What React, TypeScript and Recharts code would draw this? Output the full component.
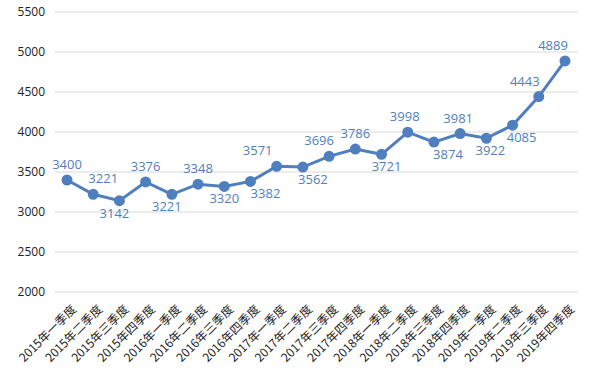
import { CartesianGrid, LabelList, Line, LineChart, XAxis, YAxis } from "recharts";

const QUARTERS = [
  "2015年一季度", "2015年二季度", "2015年三季度", "2015年四季度",
  "2016年一季度", "2016年二季度", "2016年三季度", "2016年四季度",
  "2017年一季度", "2017年二季度", "2017年三季度", "2017年四季度",
  "2018年一季度", "2018年二季度", "2018年三季度", "2018年四季度",
  "2019年一季度", "2019年二季度", "2019年三季度", "2019年四季度",
];

const VALUES = [
  3400, 3221, 3142, 3376, 3221, 3348, 3320, 3382, 3571, 3562,
  3696, 3786, 3721, 3998, 3874, 3981, 3922, 4085, 4443, 4889,
];

const Y_TICKS = [2000, 2500, 3000, 3500, 4000, 4500, 5000, 5500];

// data label placement: 1 = below the point, 0 = above; plus a small sideways nudge
const LABEL_BELOW = [0, 0, 1, 0, 1, 0, 1, 1, 0, 1, 0, 0, 1, 0, 1, 0, 1, 1, 0, 0];
const LABEL_NUDGE = [0, 10, -5, 0, -5, 0, 0, 15, -19, 10, -10, 0, 5, -3, 14, -2, 4, 9, -14, -12];

const BLUE = "#4f7fbe";

const data = QUARTERS.map((quarter, i) => ({ quarter, value: VALUES[i] }));

function QuarterTick({ x, y, payload }: any) {
  return (
    <g transform={`translate(${x + 10},${y + 10})`}>
      <text
        textAnchor="end"
        transform="rotate(-45)"
        fontSize={12}
        fill="#222"
        fontFamily="'Noto Sans CJK SC', sans-serif"
      >
        {payload.value}
      </text>
    </g>
  );
}

function ValueLabel({ x, y, value, index }: any) {
  const dy = LABEL_BELOW[index] ? 17 : -11;
  return (
    <text
      x={x + LABEL_NUDGE[index]}
      y={y + dy}
      textAnchor="middle"
      fontSize={13}
      fill={BLUE}
      fontFamily="'Open Sans', sans-serif"
    >
      {value}
    </text>
  );
}

export default function App() {
  return (
    <div style={{ position: "absolute", left: 0, top: 0, background: "#fff" }}>
      <LineChart width={593} height={371} data={data} margin={{ top: 12, right: 15, bottom: 0, left: 0 }}>
        <CartesianGrid vertical={false} stroke="#d9d9d9" />
        <XAxis
          dataKey="quarter"
          axisLine={false}
          tickLine={false}
          interval={0}
          height={79}
          padding={{ left: 12, right: 13 }}
          tick={<QuarterTick />}
        />
        <YAxis
          domain={[2000, 5500]}
          ticks={Y_TICKS}
          axisLine={false}
          tickLine={false}
          width={55}
          tickMargin={4}
          tick={{ fontSize: 12, fill: "#222", fontFamily: "'Open Sans', sans-serif" }}
        />
        <Line
          dataKey="value"
          stroke={BLUE}
          strokeWidth={3}
          dot={{ r: 4, fill: BLUE, stroke: BLUE }}
          isAnimationActive={false}
        >
          <LabelList dataKey="value" content={<ValueLabel />} />
        </Line>
      </LineChart>
    </div>
  );
}
